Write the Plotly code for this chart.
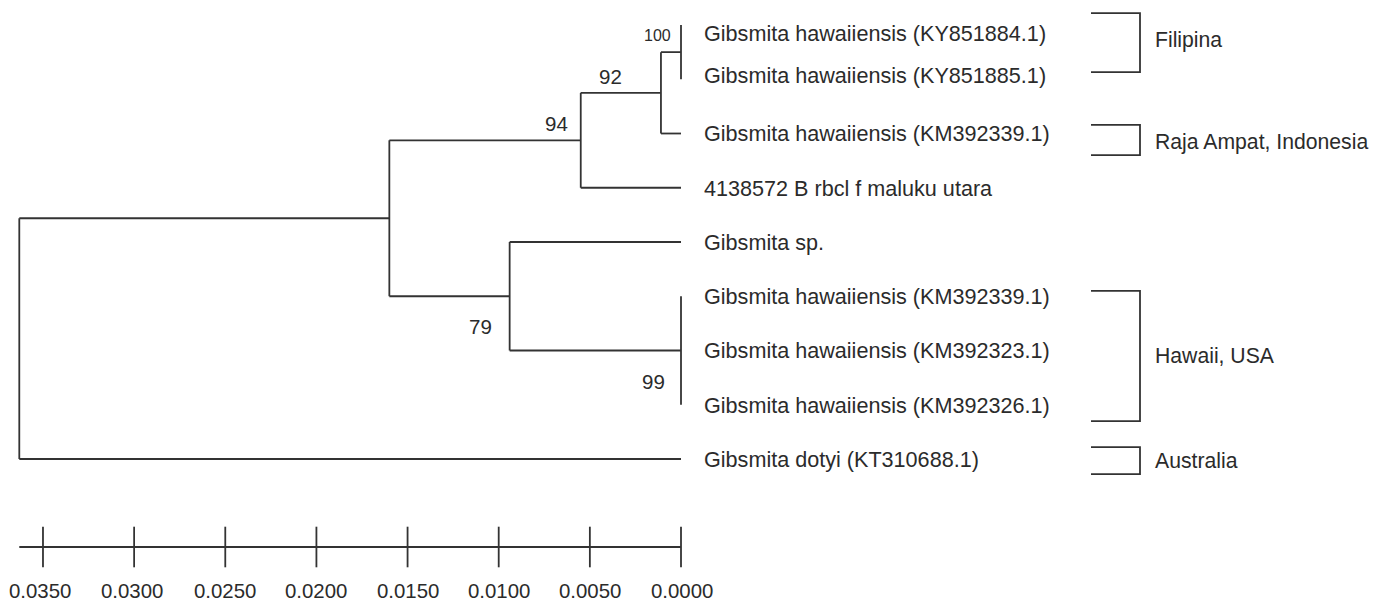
import plotly.graph_objects as go

# ---------------- data ----------------
leaf_names = [
    "Gibsmita hawaiiensis (KY851884.1)",
    "Gibsmita hawaiiensis (KY851885.1)",
    "Gibsmita hawaiiensis (KM392339.1)",
    "4138572 B rbcl f maluku utara",
    "Gibsmita sp.",
    "Gibsmita hawaiiensis (KM392339.1)",
    "Gibsmita hawaiiensis (KM392323.1)",
    "Gibsmita hawaiiensis (KM392326.1)",
    "Gibsmita dotyi (KT310688.1)",
]
# internal nodes (height = distance from tips), children refer to leaf index (int) or node name (str)
node_names = ["n100", "n92", "n94", "n99", "n79", "nA", "root"]
node_heights = [0.0000, 0.0011, 0.0055, 0.0000, 0.0094, 0.0160, 0.0363]
node_children = [[0, 1], ["n100", 2], ["n92", 3], [5, 6, 7], [4, "n99"], ["n94", "n79"], ["nA", 8]]
bootstrap_nodes = ["n100", "n92", "n94", "n79", "n99"]
bootstrap_values = [100, 92, 94, 79, 99]

group_names = ["Filipina", "Raja Ampat, Indonesia", "Hawaii, USA", "Australia"]
group_first_leaf = [0, 2, 5, 8]
group_last_leaf = [1, 2, 7, 8]

scale_ticks = [0.035, 0.030, 0.025, 0.020, 0.015, 0.010, 0.005, 0.000]
scale_labels = ["0.0350", "0.0300", "0.0250", "0.0200", "0.0150", "0.0100", "0.0050", "0.0000"]

# ---------------- layout / style constants ----------------
W, H = 1384, 607
OFF = 8                        # page body margin offset
LINE = "#333333"
TXT = "#2b2b2b"
LW = 1.8
FONT = "Arial, Liberation Sans, Helvetica, sans-serif"
PX_PER_UNIT = 18229.0          # horizontal pixels per distance unit
X0_PX = 681.0 - OFF            # pixel of distance 0
Y0_PX, DY_PX = 25.0 - OFF, 54.25  # pixel of leaf 0, spacing between leaves

x_left = X0_PX / PX_PER_UNIT
x_right = x_left - W / PX_PER_UNIT
y_top = -Y0_PX / DY_PX
y_bot = (H - Y0_PX) / DY_PX


def py(pix):
    return (pix - OFF - Y0_PX) / DY_PX


def px(pix):
    return (pix - OFF) / W


# ---------------- tree geometry ----------------
heights = dict(zip(node_names, node_heights))
children = dict(zip(node_names, node_children))
ypos = {}


def node_y(c):
    if isinstance(c, int):
        return float(c)
    if c in ypos:
        return ypos[c]
    ys = [node_y(k) for k in children[c]]
    ypos[c] = (min(ys) + max(ys)) / 2
    return ypos[c]


def node_h(c):
    return 0.0 if isinstance(c, int) else heights[c]


xs, ys = [], []
for n in node_names:
    nh = heights[n]
    cy = [node_y(k) for k in children[n]]
    xs += [nh, nh, None]
    ys += [min(cy), max(cy), None]
    for k in children[n]:
        kh = node_h(k)
        if nh > kh:
            xs += [nh, kh, None]
            ys += [node_y(k), node_y(k), None]

fig = go.Figure()
fig.add_trace(go.Scatter(x=xs, y=ys, mode="lines",
                         line=dict(color=LINE, width=LW), hoverinfo="skip", showlegend=False))

# leaf labels
leaf_nudge = [-8, 4, 0, -1, 0, 0, 0, -1, 0]  # pixel nudges (positive = up)
for i, name in enumerate(leaf_names):
    fig.add_annotation(x=0, y=i, text=name, showarrow=False, xanchor="left", yanchor="middle",
                       xshift=21, yshift=leaf_nudge[i],
                       font=dict(family=FONT, size=21.6, color=TXT))

# bootstrap labels: (xshift of right edge, yshift of centre, size)
boot_style = {"n100": (-8, 17, 16), "n92": (-37, 16, 20.5), "n94": (-11, 17, 20.5),
              "n79": (-16, -30, 20.5), "n99": (-14, -31, 20.5)}
for n, v in zip(bootstrap_nodes, bootstrap_values):
    dx, dy, sz = boot_style[n]
    fig.add_annotation(x=heights[n], y=node_y(n), text=str(v), showarrow=False,
                       xanchor="right", yanchor="middle", xshift=dx, yshift=dy,
                       font=dict(family=FONT, size=sz, color=TXT))

# group brackets
bx0, bx1 = px(1091), px(1140)
pad_top = [-0.22, -0.16, -0.10, -0.22]
pad_bot = [-0.13, 0.40, 0.30, 0.28]
label_dy = [-0.05, 0.04, -0.01, 0.0]
for g, name in enumerate(group_names):
    yt = group_first_leaf[g] + pad_top[g]
    yb = group_last_leaf[g] + pad_bot[g]
    fig.add_shape(type="path", xref="paper", yref="y",
                  path=f"M {bx0} {yt} L {bx1} {yt} L {bx1} {yb} L {bx0} {yb}",
                  line=dict(color=LINE, width=LW))
    fig.add_annotation(xref="paper", yref="y", x=px(1153), y=(yt + yb) / 2 + label_dy[g],
                       text=name, showarrow=False, xanchor="left", yanchor="middle",
                       font=dict(family=FONT, size=21.2, color=TXT))

# scale bar
bar_y = py(547)
fig.add_trace(go.Scatter(x=[node_heights[-1], 0], y=[bar_y, bar_y], mode="lines",
                         line=dict(color=LINE, width=LW), hoverinfo="skip", showlegend=False))
fig.add_trace(go.Scatter(x=scale_ticks, y=[bar_y] * len(scale_ticks), mode="markers",
                         marker=dict(symbol="line-ns-open", size=29, color=LINE,
                                     line=dict(color=LINE, width=LW)),
                         hoverinfo="skip", showlegend=False))
label_xshift = [-3, -2, 0, 0, 0, 0, 0, 1]
for t, lab, dx in zip(scale_ticks, scale_labels, label_xshift):
    fig.add_annotation(x=t, y=py(591), text=lab, showarrow=False, xanchor="center",
                       yanchor="middle", xshift=dx,
                       font=dict(family=FONT, size=20.4, color=TXT))

fig.update_layout(
    width=W, height=H,
    margin=dict(l=0, r=0, t=0, b=0),
    paper_bgcolor="white", plot_bgcolor="white",
    xaxis=dict(range=[x_left, x_right], visible=False, fixedrange=True),
    yaxis=dict(range=[y_bot, y_top], visible=False, fixedrange=True),
    showlegend=False,
)

fig.write_html("out.html")
